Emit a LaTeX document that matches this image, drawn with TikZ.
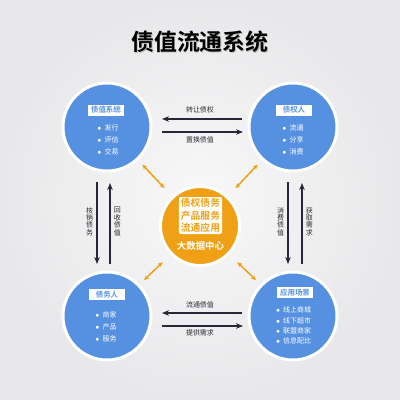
\documentclass[tikz,border=0pt]{standalone}
\usepackage{fontspec}
\newfontfamily\cjk{Noto Sans CJK SC}[BoldFont={Noto Sans CJK SC Bold}]
\usetikzlibrary{arrows.meta,shadows}
\definecolor{zblue}{RGB}{86,145,225}
\definecolor{zorange}{RGB}{240,160,20}
\definecolor{znavy}{RGB}{38,40,58}
\definecolor{ztext}{RGB}{45,45,50}
\definecolor{zbgin}{RGB}{248,248,249}
\definecolor{zbgout}{RGB}{232,232,234}
\tikzset{
  role/.style={circle,fill=zblue,draw=white,line width=3bp,minimum size=88bp,
    drop shadow={opacity=0.15,shadow xshift=0bp,shadow yshift=-1.5bp}},
  hub/.style={circle,fill=zorange,draw=white,line width=3bp,minimum size=79bp,
    drop shadow={opacity=0.15,shadow xshift=0bp,shadow yshift=-1.5bp}},
  tag/.style={fill=white,text=zblue,font=\cjk\bfseries\fontsize{7.5}{8}\selectfont,
    inner sep=0pt,minimum width=36bp,minimum height=11bp},
  items/.style={text=white,align=left,inner sep=0pt,font=\cjk\fontsize{7}{12.2}\selectfont},
  note/.style={text=ztext,inner sep=0pt,font=\cjk\fontsize{7}{8}\selectfont},
  vnote/.style={note,align=center,font=\cjk\fontsize{7}{7.4}\selectfont},
}
\newcommand{\itm}{$\bullet$\hspace{3bp}}
\begin{document}
\begin{tikzpicture}[x=1bp,y=-1bp]
  \useasboundingbox (0,0) rectangle (400,400);
  \shade[inner color=zbgin,outer color=zbgout] (0,0) rectangle (400,400);

  % title
  \node[text=black!25,font=\cjk\bfseries\fontsize{23}{23}\selectfont] (shade) at (200.8,43) {债值流通系统};
  \node[text=black,font=\cjk\bfseries\fontsize{23}{23}\selectfont] (title) at (200,42) {债值流通系统};

  % circles
  \node[role] (xt) at (107,127) {};
  \node[role] (xr) at (293,127) {};
  \node[role] (xb) at (107,316) {};
  \node[role] (xs) at (293,316) {};
  \node[hub] (hub) at (200,226) {};

  % circle contents
  \node[tag] (xtt) at (106,110) {债值系统};
  \node[items] (xtl) at (108,140) {\itm 发行\\ \itm 评估\\ \itm 交易};
  \node[tag] (xrt) at (294,110) {债权人};
  \node[items] (xrl) at (293,140) {\itm 流通\\ \itm 分享\\ \itm 消费};
  \node[tag] (xbt) at (107,294.5) {债务人};
  \node[items] (xbl) at (106,327) {\itm 商家\\ \itm 产品\\ \itm 服务};
  \node[tag] (xst) at (295,292.5) {应用场景};
  \node[items,font=\cjk\fontsize{7}{10.3}\selectfont] (xsl) at (293.5,325.5)
    {\itm 线上商城\\ \itm 线下超市\\ \itm 联盟商家\\ \itm 信息配比};
  \node[fill=white,rounded corners=2bp,text=zorange,align=center,inner sep=0pt,
    minimum width=43bp,minimum height=37bp,font=\cjk\bfseries\fontsize{9.8}{12.5}\selectfont]
    (hubbox) at (200.5,215.5) {债权债务\\产品服务\\流通应用};
  \node[text=white,font=\cjk\bfseries\fontsize{9.5}{10}\selectfont] (hubname) at (200.5,246) {大数据中心};

  % flows between the parties
  \begin{scope}[every edge/.style={draw=znavy,line width=1.8bp,-{Stealth[length=7bp,width=5.5bp]}}]
    \path ([yshift=8bp]xr.west) edge[shorten <=5bp,shorten >=9.5bp]
      node[note,above=5bp] {转让债权} ([yshift=8bp]xt.east);
    \path ([yshift=-5bp]xt.east) edge[shorten <=9.5bp,shorten >=4.5bp]
      node[note,below=4bp] {置换债值} ([yshift=-5bp]xr.west);
    \path ([yshift=3bp]xs.west) edge[shorten <=5bp,shorten >=9.5bp]
      node[note,above=4bp] {流通债值} ([yshift=3bp]xb.east);
    \path ([yshift=-10bp]xb.east) edge[shorten <=9.5bp,shorten >=4.5bp]
      node[note,below=3bp] {提供需求} ([yshift=-10bp]xs.west);
    \path ([xshift=-10bp]xt.south) edge[shorten <=9.5bp,shorten >=6.5bp]
      node[vnote,left=3bp] {核\\销\\债\\务} ([xshift=-10bp]xb.north);
    \path ([xshift=3bp]xb.north) edge[shorten <=6.5bp,shorten >=10.5bp]
      node[vnote,right=3bp] {回\\收\\债\\值} ([xshift=3bp]xt.south);
    \path ([xshift=-5bp]xr.south) edge[shorten <=9.5bp,shorten >=6.5bp]
      node[vnote,left=3bp] {消\\费\\债\\值} ([xshift=-5bp]xs.north);
    \path ([xshift=9bp]xs.north) edge[shorten <=6.5bp,shorten >=10.5bp]
      node[vnote,right=3bp] {获\\取\\需\\求} ([xshift=9bp]xr.south);
  \end{scope}

  % links to the hub
  \begin{scope}[every edge/.style={draw=zorange,line width=1.5bp,
      {Stealth[length=5bp,width=4.5bp]}-{Stealth[length=5bp,width=4.5bp]},
      shorten <=11bp,shorten >=6bp}]
    \path (hub) edge (xt);
    \path (hub) edge (xr);
    \path (hub) edge (xb);
    \path (hub) edge (xs);
  \end{scope}
\end{tikzpicture}
\end{document}
